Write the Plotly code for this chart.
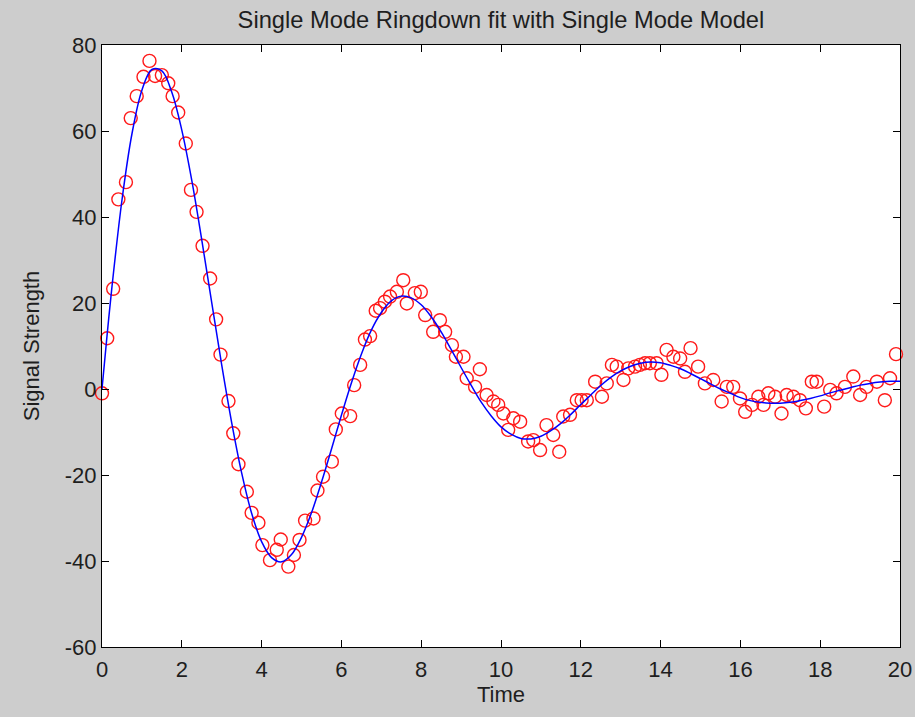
import plotly.graph_objects as go

# measured data points (Time, Signal Strength)
time_pts = [0.00, 0.13, 0.28, 0.41, 0.60, 0.72, 0.87, 1.04, 1.19, 1.33, 1.50, 1.66, 1.77, 1.91,
            2.10, 2.23, 2.37, 2.52, 2.71, 2.86, 2.97, 3.17, 3.29, 3.42, 3.63, 3.75, 3.92, 4.02,
            4.21, 4.38, 4.48, 4.67, 4.81, 4.95, 5.09, 5.30, 5.40, 5.54, 5.76, 5.86, 6.01, 6.22,
            6.32, 6.47, 6.59, 6.72, 6.86, 6.97, 7.09, 7.22, 7.39, 7.55, 7.64, 7.84, 7.99, 8.10,
            8.30, 8.47, 8.60, 8.77, 8.87, 9.06, 9.14, 9.35, 9.47, 9.64, 9.81, 9.93, 10.06, 10.18,
            10.31, 10.48, 10.68, 10.81, 10.98, 11.14, 11.31, 11.46, 11.56, 11.73, 11.90, 12.02,
            12.15, 12.36, 12.53, 12.65, 12.78, 12.90, 13.07, 13.19, 13.36, 13.48, 13.61, 13.73,
            13.90, 14.02, 14.15, 14.32, 14.49, 14.61, 14.75, 14.94, 15.11, 15.32, 15.53, 15.66,
            15.82, 15.99, 16.12, 16.29, 16.45, 16.58, 16.70, 16.87, 17.03, 17.16, 17.33, 17.49,
            17.64, 17.79, 17.91, 18.10, 18.25, 18.41, 18.62, 18.83, 19.00, 19.16, 19.42, 19.62,
            19.75, 19.90]
signal_pts = [-1.0, 11.8, 23.3, 44.1, 48.1, 63.0, 68.1, 72.6, 76.3, 72.8, 73.0, 71.1, 68.1, 64.3,
              57.1, 46.3, 41.2, 33.3, 25.7, 16.2, 8.0, -2.8, -10.3, -17.5, -23.9, -28.8, -31.1, -36.3,
              -39.8, -37.4, -35.0, -41.3, -38.6, -35.1, -30.6, -30.1, -23.6, -20.4, -16.9, -9.4, -5.7, -6.3,
              0.9, 5.6, 11.5, 12.3, 18.2, 18.8, 20.3, 21.5, 22.6, 25.3, 19.9, 22.3, 22.6, 17.2,
              13.3, 16.0, 13.3, 10.2, 7.5, 7.5, 2.5, 0.5, 4.6, -1.4, -2.9, -3.7, -5.7, -9.5,
              -6.8, -7.6, -12.2, -11.9, -14.2, -8.4, -10.7, -14.6, -6.4, -6.0, -2.6, -2.6,
              -2.6, 1.7, -1.8, 1.3, 5.6, 5.2, 2.1, 4.8, 5.2, 5.6, 6.0, 6.0,
              6.0, 3.3, 9.1, 7.5, 7.1, 4.0, 9.5, 5.2, 1.3, 2.1, -2.9, 0.5,
              0.5, -2.2, -5.3, -3.7, -1.8, -3.7, -1.0, -1.8, -5.7, -1.4, -1.8, -2.6,
              -4.5, 1.7, 1.7, -4.1, -0.2, -1.0, 0.5, 2.9, -1.4, 0.5, 1.7, -2.6,
              2.5, 8.1]

# fitted single-mode model curve
fit_time = [0.0, 0.125, 0.25, 0.5, 0.75, 1.0, 1.25, 1.5, 1.75, 2.0, 2.25, 2.5, 2.75, 3.0, 3.25,
            3.5, 3.75, 4.0, 4.25, 4.5, 4.75, 5.0, 5.25, 5.5, 5.75, 6.0, 6.25, 6.5, 6.75, 7.0,
            7.25, 7.5, 7.75, 8.0, 8.25, 8.5, 8.75, 9.0, 9.25, 9.5, 9.75, 10.0, 10.25, 10.5,
            10.75, 11.0, 11.25, 11.5, 11.75, 12.0, 12.25, 12.5, 12.75, 13.0, 13.25, 13.5,
            13.75, 14.0, 14.25, 14.5, 14.75, 15.0, 15.25, 15.5, 15.75, 16.0, 16.25, 16.5,
            16.75, 17.0, 17.25, 17.5, 17.75, 18.0, 18.25, 18.5, 18.75, 19.0, 19.25, 19.5,
            19.75, 20.0]
fit_signal = [0.0, 12.3, 23.8, 43.9, 59.3, 69.5, 74.3, 74.0, 69.0, 60.2, 48.5, 34.7, 20.1, 5.6, -7.8,
              -19.5, -28.9, -35.5, -39.2, -40.2, -38.5, -34.5, -28.8, -21.7, -14.0, -6.1, 1.4, 8.1, 13.7, 17.8,
              20.5, 21.6, 21.2, 19.6, 16.8, 13.3, 9.2, 5.0, 0.9, -3.0, -6.2, -8.8, -10.5, -11.5,
              -11.6, -11.0, -9.7, -8.0, -5.9, -3.6, -1.4, 0.8, 2.7, 4.2, 5.3, 6.0,
              6.3, 6.1, 5.5, 4.7, 3.6, 2.4, 1.2, 0.0, -1.0, -2.0, -2.7, -3.1,
              -3.3, -3.3, -3.1, -2.7, -2.2, -1.6, -0.9, -0.3, 0.3, 0.9, 1.3, 1.6,
              1.8, 1.8]

x_ticks = [0, 2, 4, 6, 8, 10, 12, 14, 16, 18, 20]
x_tick_labels = ["0", "2", "4", "6", "8", "10", "12", "14", "16", "18", "20"]
y_ticks = [-60, -40, -20, 0, 20, 40, 60, 80]
y_tick_labels = ["-60", "-40", "-20", "0", "20", "40", "60", "80"]

FONT = "Liberation Sans, Arial, sans-serif"
TXT = "#1e1e1e"

fig = go.Figure()
fig.add_trace(go.Scatter(
    x=time_pts, y=signal_pts, mode="markers",
    marker=dict(symbol="circle-open", size=13, color="#ff1a1a", line=dict(width=1.4, color="#ff1a1a")),
    showlegend=False, cliponaxis=False))
fig.add_trace(go.Scatter(
    x=fit_time, y=fit_signal, mode="lines", line=dict(color="#0000ff", width=1.5, shape="spline"),
    showlegend=False))

axis_common = dict(
    showline=True, linecolor="black", linewidth=1, mirror="allticks",
    ticks="inside", ticklen=7, tickcolor="black", tickwidth=1,
    showgrid=False, zeroline=False,
    tickfont=dict(family=FONT, size=22, color=TXT),
)

fig.update_layout(
    width=915, height=717,
    margin=dict(l=102, r=15, t=45, b=70),
    paper_bgcolor="#cdcdcd", plot_bgcolor="white",
    title=dict(text="Single Mode Ringdown fit with Single Mode Model",
               x=0.5475, xanchor="center", y=0.972, yanchor="middle", yref="container",
               font=dict(family=FONT, size=23.7, color=TXT)),
    xaxis=dict(range=[0, 20], tickvals=x_ticks, ticktext=x_tick_labels, ticklabelstandoff=3,
               automargin=False,
               title=dict(text="Time", font=dict(family=FONT, size=22, color=TXT), standoff=0),
               **axis_common),
    yaxis=dict(range=[-60, 80], tickvals=y_ticks, ticktext=y_tick_labels,
               automargin=True,
               title=dict(text="Signal Strength", font=dict(family=FONT, size=22, color=TXT), standoff=19),
               **axis_common),
)

fig.write_html("out.html")
